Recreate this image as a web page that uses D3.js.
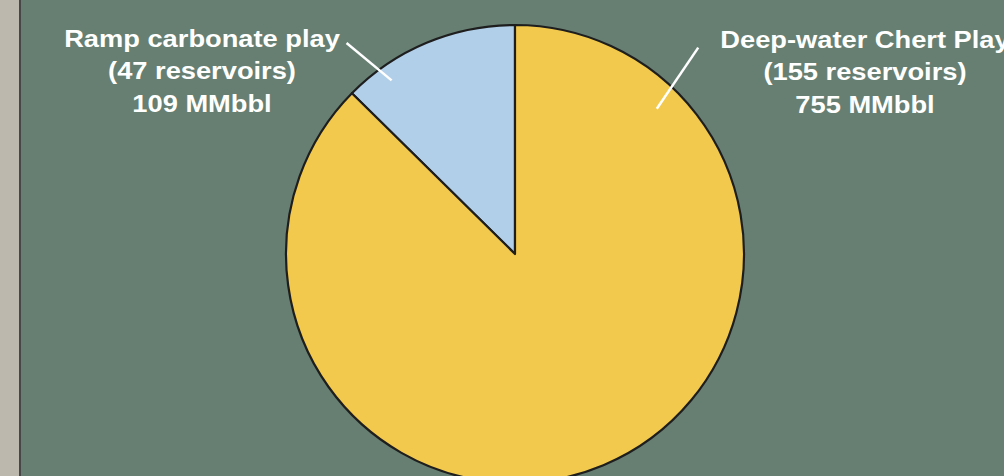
<!DOCTYPE html>
<html>
<head>
<meta charset="utf-8">
<script src="https://cdn.jsdelivr.net/npm/d3@7/dist/d3.min.js"></script>
<style>
  html, body { margin: 0; padding: 0; background: #667f72; }
  svg { display: block; }
  .lbl { font-family: "Liberation Sans", Arial, sans-serif; font-weight: bold; fill: #fff; }
</style>
</head>
<body>
<svg id="chart" width="1004" height="476"></svg>
<script>
// data
const plays = ["Ramp carbonate play", "Deep-water Chert Play"];
const reservoirs = [47, 155];
const volumes = [109, 755];   // MMbbl
const colors = ["#b1cfe8", "#f2c94c"];

const W = 1004, H = 476;
const svg = d3.select("#chart");

// grey page margin on the left
svg.append("rect").attr("x", 0).attr("y", 0).attr("width", 19).attr("height", H).attr("fill", "#bcb8ad");
svg.append("rect").attr("x", 19).attr("y", 0).attr("width", 2).attr("height", H).attr("fill", "#474747");

const cx = 515, cy = 254, R = 229;
const total = d3.sum(volumes);
const start = -2 * Math.PI * volumes[0] / total;

const pie = d3.pie().sort(null).value(d => d)
  .startAngle(start).endAngle(start + 2 * Math.PI);
const arcs = pie(volumes);
const arc = d3.arc().innerRadius(0).outerRadius(R);

const g = svg.append("g").attr("transform", `translate(${cx},${cy})`);
g.selectAll("path.slice")
  .data(arcs)
  .enter().append("path")
  .attr("class", "slice")
  .attr("d", arc)
  .attr("fill", (d, i) => colors[i])
  .attr("stroke", "#1e1e1e")
  .attr("stroke-width", 2.2)
  .attr("stroke-linejoin", "round");

// leader lines: [angle deg, radius] for inner and outer ends
const leaders = [
  [[-35.4, 213], [-38.6, 270]],
  [[44.3, 203], [41.6, 276]]
];
const polar = (a, r) => [r * Math.sin(a * Math.PI / 180), -r * Math.cos(a * Math.PI / 180)];
g.selectAll("line.leader")
  .data(leaders)
  .enter().append("line")
  .attr("class", "leader")
  .attr("x1", d => polar(...d[0])[0]).attr("y1", d => polar(...d[0])[1])
  .attr("x2", d => polar(...d[1])[0]).attr("y2", d => polar(...d[1])[1])
  .attr("stroke", "#fff").attr("stroke-width", 2.5);

// labels
const labelPos = [[202, 47], [865, 48]];
const lineGap = 32.5;
plays.forEach((p, i) => {
  const lines = [p, `(${reservoirs[i]} reservoirs)`, `${volumes[i]} MMbbl`];
  const t = svg.append("g")
    .attr("transform", `translate(${labelPos[i][0]},${labelPos[i][1]}) scale(1.1,1)`);
  t.selectAll("text")
    .data(lines)
    .enter().append("text")
    .attr("class", "lbl")
    .attr("text-anchor", "middle")
    .attr("font-size", 24.8)
    .attr("y", (d, j) => j * lineGap)
    .text(d => d);
});
</script>
</body>
</html>
